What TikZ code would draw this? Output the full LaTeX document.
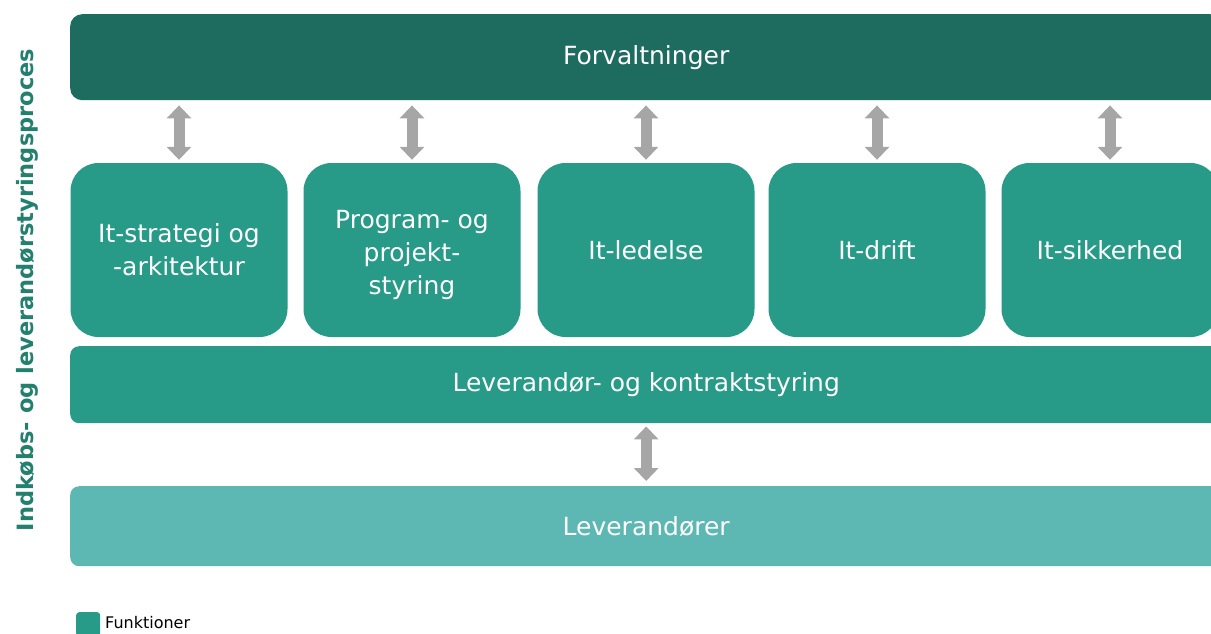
\documentclass[tikz,border=0pt]{standalone}
\usepackage{fontspec}
\setmainfont{DejaVu Sans}
\usetikzlibrary{arrows.meta}
\definecolor{govdark}{HTML}{1E6B5F}
\definecolor{govmid}{HTML}{279A88}
\definecolor{govlight}{HTML}{5DB8B3}
\definecolor{linkgray}{HTML}{A6A6A6}
\definecolor{sidetext}{HTML}{23806E}
\begin{document}
\begin{tikzpicture}[x=1pt,y=-1pt,
  bar/.style={rectangle, draw=none, minimum width=1152pt, anchor=north west,
    text=white, font=\fontsize{25}{30}\selectfont, inner sep=0pt},
  fnbox/.style={rectangle, rounded corners=28pt, fill=govmid, draw=none,
    minimum width=217pt, minimum height=174pt, text=white, align=center,
    font=\fontsize{25}{33}\selectfont, inner sep=0pt},
  link/.style={draw=linkgray, line width=11pt,
    {Triangle[width=24pt,length=13pt]}-{Triangle[width=24pt,length=13pt]}}
]
\useasboundingbox (0,0) rectangle (1211,633);
\clip (0,0) rectangle (1211,633);

% top and bottom bands
\node[bar, fill=govdark, rounded corners=12pt, minimum height=86pt] (forv) at (70,14) {Forvaltninger};
\node[bar, fill=govmid, rounded corners=9pt, minimum height=77pt] (kontrakt) at (70,346) {Leverandør- og kontraktstyring};
\node[bar, fill=govlight, rounded corners=9pt, minimum height=80pt] (lev) at (70,486) {Leverandører};

% function boxes
\node[fnbox] (f1) at (179,250) {It-strategi og\\-arkitektur};
\node[fnbox] (f2) at (412,250) {\rule{0pt}{28pt}Program- og\\projekt-\\styring};
\node[fnbox] (f3) at (646,250) {It-ledelse};
\node[fnbox] (f4) at (877,250) {It-drift};
\node[fnbox] (f5) at (1110,250) {It-sikkerhed};

% two-way links
\foreach \b in {f1,f2,f3,f4,f5}{
  \draw[link, shorten <=5pt, shorten >=3pt] (\b.north |- forv.south) -- (\b.north);
}
\draw[link, shorten <=3pt, shorten >=5pt] (kontrakt.south) -- (lev.north);

% side label
\node[rotate=90, anchor=base, text=sidetext, font=\bfseries\fontsize{22.5}{26}\selectfont] (side) at (33,290) {Indkøbs- og leverandørstyringsproces};

% legend
\node[rectangle, fill=govmid, rounded corners=3pt, minimum width=24pt, minimum height=24pt, anchor=north west, inner sep=0pt] (legbox) at (76,612) {};
\node[anchor=west, font=\fontsize{16}{18}\selectfont, inner sep=0pt] (legtext) at (105,623) {Funktioner};
\end{tikzpicture}
\end{document}
